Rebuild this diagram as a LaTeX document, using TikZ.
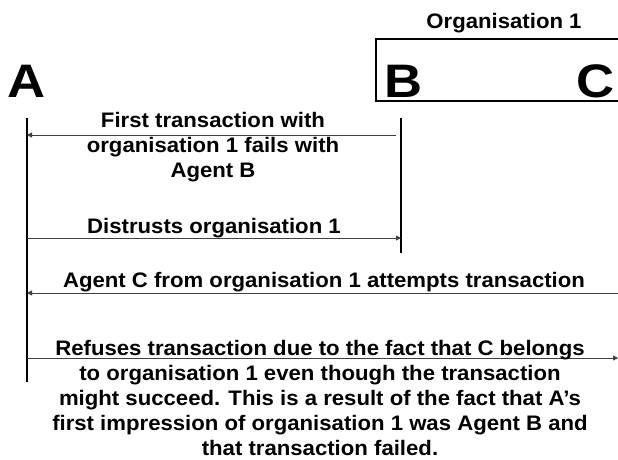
\documentclass[tikz,border=0pt]{standalone}
\usepackage{fontspec}
\setmainfont{Liberation Sans}
\newfontfamily\widesans[FakeStretch=1.055]{Liberation Sans}
\newfontfamily\bigsans[FakeStretch=1.12]{Liberation Sans}
\usetikzlibrary{arrows.meta}
\begin{document}
\begin{tikzpicture}[x=1pt,y=1pt,
  lifeline/.style={line width=2.6pt},
  msg/.style={line width=0.9pt, draw=black!75, -{Triangle[length=5pt,width=5pt]}},
  label/.style={inner sep=0pt, align=center, font=\widesans\fontsize{21}{25}\selectfont\bfseries},
  agent/.style={inner sep=0pt, font=\bigsans\fontsize{47}{47}\selectfont\bfseries},
  orgbox/.style={line width=1.3pt}]
\useasboundingbox (0,0) rectangle (618,-459);
\fill[white] (0,0) rectangle (618,-459);

% organisation heading and box around agents B and C
\node[label] (org) at (504,-23) {Organisation 1};
\draw[orgbox] (618,-39) -- (376,-39) -- (376,-101) -- (618,-101);

% agents
\node[agent] (A) at (27,-81) {A};
\node[agent] (B) at (404,-81) {B};
\node[agent] (C) at (595,-81) {C};

% lifelines
\coordinate (Atop) at (27,-118);
\coordinate (Abot) at (27,-382);
\coordinate (Btop) at (401,-118);
\coordinate (Bbot) at (401,-253);
\draw[lifeline] (Atop) -- (Abot);
\draw[lifeline] (Btop) -- (Bbot);

% message end points
\coordinate (b1) at (396,-135);
\coordinate (a1) at (27,-135);
\coordinate (a2) at (27,-238);
\coordinate (b2) at (401,-238);
\coordinate (c3) at (618,-293);
\coordinate (a3) at (27,-293);
\coordinate (a4) at (27,-358);
\coordinate (c4) at (618,-358);

% messages
\draw[msg] (b1) -- (a1);
\draw[msg] (a2) -- (b2);
\draw[msg] (c3) -- (a3);
\draw[msg] (a4) -- (c4);

% message texts
\node[label] (t1) at (213,-147) {First transaction with\\organisation 1 fails with\\Agent B};
\node[label] (t2) at (214,-228) {Distrusts organisation 1};
\node[label] (t3) at (324,-282) {Agent C from organisation 1 attempts transaction};
\node[label] (t4) at (320,-398) {Refuses transaction due to the fact that C belongs\\to organisation 1 even though the transaction\\might succeed. This is a result of the fact that A’s\\first impression of organisation 1 was Agent B and\\that transaction failed.};
\end{tikzpicture}
\end{document}
